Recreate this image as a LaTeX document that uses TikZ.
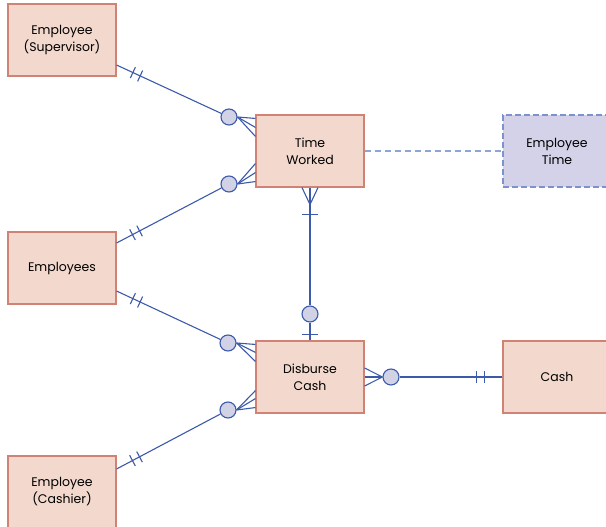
\documentclass[tikz,border=0pt]{standalone}
\usepackage{fontspec}
\setmainfont{Poppins}
\usetikzlibrary{decorations.markings}

\begin{document}
\begin{tikzpicture}[x=1pt, y=-1pt,
  entity/.style={draw=boxline, fill=boxfill, line width=1.1pt,
    minimum width=108pt, minimum height=72pt, inner sep=0pt,
    align=center, font=\fontsize{12.5}{17}\selectfont},
  zero/.style={circle, draw=relline, fill=ringfill, line width=1.1pt,
    minimum size=16pt, inner sep=0pt},
  rel/.style={draw=relline, line width=1.1pt},
  twobars/.style={rel, postaction={decorate}, decoration={markings,
    mark=at position 18pt with {\draw[rel] (0,-6pt) -- (0,6pt);},
    mark=at position 26pt with {\draw[rel] (0,-6pt) -- (0,6pt);}}},
  onebar/.style={rel, postaction={decorate}, decoration={markings,
    mark=at position #1 with {\draw[rel] (0,-8pt) -- (0,8pt);}}}]

  \definecolor{boxfill}{RGB}{243,217,205}
  \definecolor{boxline}{RGB}{208,130,116}
  \definecolor{relline}{RGB}{60,90,170}
  \definecolor{ringfill}{RGB}{210,210,230}
  \definecolor{viewfill}{RGB}{212,210,232}
  \definecolor{viewline}{RGB}{125,145,205}
  \definecolor{viewlink}{RGB}{140,165,215}

  \clip (0,0) rectangle (606,527);

  % Draw the entities first

  \node[entity] (sup) at (62,40) {Employee\\(Supervisor)};
  \node[entity] (emp) at (62,268) {Employees};
  \node[entity] (cashier) at (62,492) {Employee\\(Cashier)};
  \node[entity] (time) at (310,151) {Time\\Worked};
  \node[entity] (disb) at (310,377) {Disburse\\Cash};
  \node[entity] (cash) at (557,377) {Cash};
  \node[entity, draw=viewline, fill=viewfill, dash pattern=on 6pt off 3pt]
    (emptime) at (557,151) {Employee\\Time};

  % Then the optional ends

  \node[zero] (supring) at (229,117) {};
  \node[zero] (empring) at (229,184) {};
  \node[zero] (payring) at (228,343) {};
  \node[zero] (cashierring) at (228,410) {};
  \node[zero] (workring) at (310,314) {};
  \node[zero] (cashring) at (391,377) {};

  % Then the relationships

  \draw[twobars] ([yshift=-25pt]sup.east) -- (supring);
  \draw[twobars] ([yshift=25pt]emp.east) -- (empring);
  \draw[twobars] ([yshift=-23pt]emp.east) -- (payring);
  \draw[twobars] ([yshift=23pt]cashier.east) -- (cashierring);
  \draw[twobars] (cash.west |- cashring) -- (cashring);

  \foreach \dy in {4,13,22}{
    \draw[rel] (supring.east) -- ([yshift=-\dy pt]time.north west);
  }
  \foreach \dy in {6,15,24}{
    \draw[rel] (empring.east) -- ([yshift=\dy pt]time.south west);
  }
  \foreach \dy in {4,12,21}{
    \draw[rel] (payring.east) -- ([yshift=-\dy pt]disb.north west);
  }
  \foreach \dy in {6,15,23}{
    \draw[rel] (cashierring.east) -- ([yshift=\dy pt]disb.south west);
  }
  \foreach \dy in {-9,0,9}{
    \draw[rel] (cashring.west) -- ([yshift=\dy pt]disb.east);
  }

  \coordinate (timefoot) at ([yshift=-17pt]time.south);
  \foreach \dx in {-8,0,8}{
    \draw[rel] (timefoot) -- ([xshift=\dx pt]time.south);
  }
  \draw[onebar=10pt] (timefoot) -- (workring);
  \draw[onebar=12pt] (workring) -- (disb.north);

  \draw[draw=viewlink, line width=1.1pt, dash pattern=on 6pt off 4pt]
    (time.east) -- (emptime.west);
\end{tikzpicture}
\end{document}
